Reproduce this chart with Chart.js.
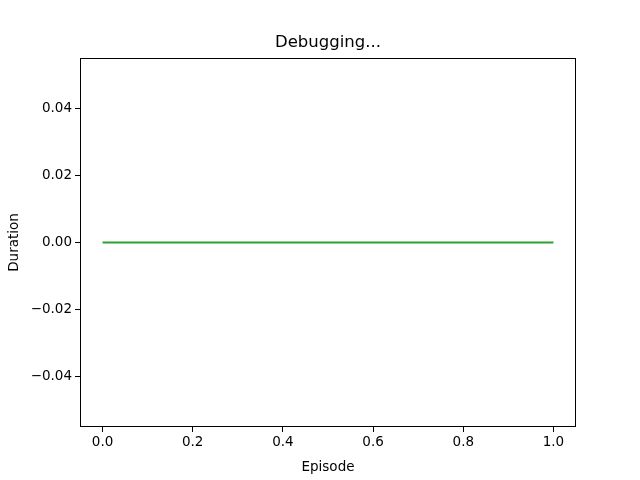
<!DOCTYPE html>
<html>
<head>
<meta charset="UTF-8">
<script src="https://cdn.jsdelivr.net/npm/chart.js"></script>
<style>
  html, body { margin: 0; padding: 0; background: #fff; }
  #wrap { width: 640px; height: 480px; }
</style>
</head>
<body>
<div id="wrap"><canvas id="c"></canvas></div>
<script>
const episodes = [0, 1];
const durations = [0, 0];
const xTicks = [0, 0.2, 0.4, 0.6, 0.8, 1.0];
const yTicks = [-0.04, -0.02, 0, 0.02, 0.04];

const font = { family: 'DejaVu Sans', size: 13.5 };

// all four spines
const frame = {
  id: 'frame',
  afterDraw(chart) {
    const a = chart.chartArea, ctx = chart.ctx;
    ctx.save();
    ctx.strokeStyle = '#000';
    ctx.lineWidth = 1;
    ctx.strokeRect(Math.round(a.left) + 0.5, Math.round(a.top) + 0.5,
                   Math.round(a.right - a.left) - 1, Math.round(a.bottom - a.top) - 1);
    ctx.restore();
  }
};

new Chart(document.getElementById('c'), {
  type: 'line',
  data: {
    datasets: [{
      data: episodes.map((x, i) => ({ x: x, y: durations[i] })),
      borderColor: '#2ca02c',
      borderWidth: 2,
      pointRadius: 0,
      fill: false
    }]
  },
  options: {
    responsive: true,
    maintainAspectRatio: false,
    animation: false,
    layout: { padding: { left: 0, right: 64, top: 0, bottom: 0 } },
    plugins: {
      legend: { display: false },
      tooltip: { enabled: false }
    },
    scales: {
      x: {
        type: 'linear',
        min: -0.05, max: 1.05,
        afterBuildTicks: s => { s.ticks = xTicks.map(v => ({ value: v })); },
        afterFit: s => { s.height = 53; },
        ticks: { color: '#000', font: font, maxRotation: 0, padding: 2,
                 callback: v => v.toFixed(1) },
        grid: { drawOnChartArea: false, color: '#000', tickLength: 5 },
        border: { display: false },
        title: { display: true, text: 'Episode', color: '#000', font: font, padding: { top: 0 } }
      },
      top: {
        type: 'linear',
        position: 'top',
        min: -0.05, max: 1.05,
        afterFit: s => { s.height = 58; },
        ticks: { display: false },
        grid: { display: false },
        border: { display: false },
        title: { display: true, text: 'Debugging...', color: '#000',
                 font: { family: 'DejaVu Sans', size: 16.5 }, padding: { top: 33, bottom: 4 } }
      },
      y: {
        min: -0.055, max: 0.055,
        afterBuildTicks: s => { s.ticks = yTicks.map(v => ({ value: v })); },
        afterFit: s => { s.width = 80; },
        ticks: { color: '#000', font: font, padding: 3,
                 callback: v => (Math.abs(v) < 1e-9 ? '0.00' : v.toFixed(2).replace('-', '\u2212')) },
        grid: { drawOnChartArea: false, color: '#000', tickLength: 5 },
        border: { display: false },
        title: { display: true, text: 'Duration', color: '#000', font: font, padding: { top: 6, bottom: 4 } }
      }
    }
  },
  plugins: [frame]
});
</script>
</body>
</html>
